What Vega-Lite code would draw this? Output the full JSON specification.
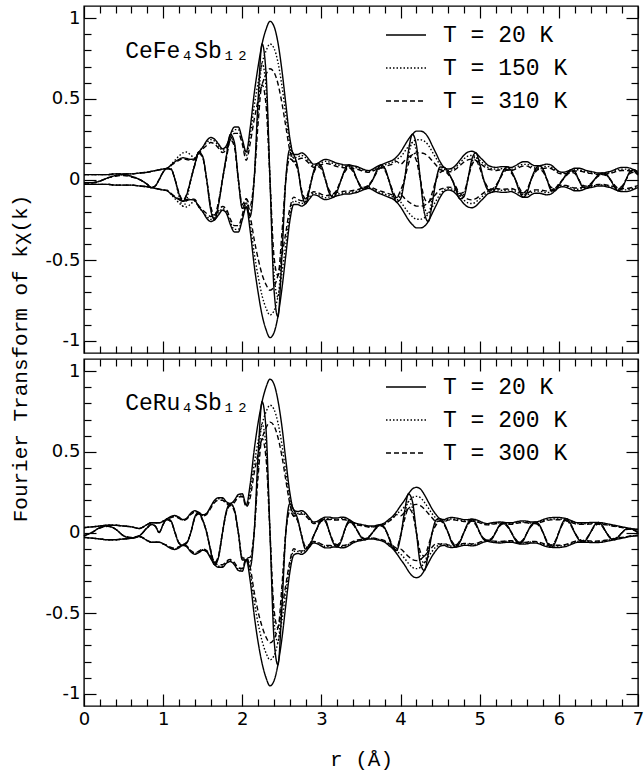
{
"$schema": "https://vega.github.io/schema/vega-lite/v6.json",
"background": "white",
"padding": {"left": 9, "top": 4, "right": 4, "bottom": 4},
"bounds": "flush",
"spacing": 6,
"config": {
  "view": {"stroke": "black", "strokeWidth": 1.4},
  "axis": {"domain": false, "grid": false, "tickColor": "black", "tickWidth": 1.2, "labelColor": "black", "labelFont": "DejaVu Sans", "labelFontSize": 18, "titleFont": "Liberation Mono", "titleFontSize": 21, "titleFontWeight": "normal", "titleColor": "black", "labelPadding": 16},
  "legend": {"labelFont": "Liberation Mono", "labelFontSize": 23, "labelColor": "black", "symbolType": "stroke", "symbolSize": 1600, "symbolStrokeWidth": 1.6, "symbolStrokeColor": "black", "labelOffset": 16, "rowPadding": -9, "padding": 0},
  "line": {"color": "black", "strokeWidth": 1.4, "interpolate": "monotone"}
},
"resolve": {"scale": {"strokeDash": "independent"}, "legend": {"strokeDash": "independent"}},
"datasets": {
"fe": [
{"r":0,"a":0.03,"b":0.03,"c":0.03,"d":-0.02,"e":-0.02,"f":-0.02},
{"r":0.1,"a":0.03,"b":0.03,"c":0.03,"d":-0.02,"e":-0.02,"f":-0.02},
{"r":0.2,"a":0.03,"b":0.03,"c":0.03,"d":-0.01,"e":-0.01,"f":-0.01},
{"r":0.3,"a":0.03,"b":0.03,"c":0.03,"d":0.01,"e":0.01,"f":0.01},
{"r":0.4,"a":0.035,"b":0.035,"c":0.035,"d":0.025,"e":0.025,"f":0.02},
{"r":0.5,"a":0.035,"b":0.035,"c":0.035,"d":0.03,"e":0.03,"f":0.025},
{"r":0.6,"a":0.035,"b":0.035,"c":0.035,"d":0.02,"e":0.02,"f":0.015},
{"r":0.7,"a":0.04,"b":0.04,"c":0.04,"d":0,"e":0,"f":0},
{"r":0.8,"a":0.045,"b":0.045,"c":0.045,"d":-0.03,"e":-0.03,"f":-0.03},
{"r":0.85,"a":0.05,"b":0.05,"c":0.05,"d":-0.05,"e":-0.05,"f":-0.05},
{"r":0.9,"a":0.055,"b":0.055,"c":0.055,"d":-0.04,"e":-0.04,"f":-0.04},
{"r":0.95,"a":0.06,"b":0.06,"c":0.06,"d":0,"e":0,"f":0},
{"r":1,"a":0.065,"b":0.065,"c":0.065,"d":0.046,"e":0.046,"f":0.046},
{"r":1.05,"a":0.07,"b":0.07,"c":0.067,"d":0.07,"e":0.07,"f":0.067},
{"r":1.1,"a":0.09,"b":0.092,"c":0.086,"d":0.064,"e":0.065,"f":0.061},
{"r":1.15,"a":0.11,"b":0.12,"c":0.105,"d":0,"e":0,"f":0},
{"r":1.2,"a":0.125,"b":0.145,"c":0.119,"d":-0.089,"e":-0.103,"f":-0.084},
{"r":1.25,"a":0.135,"b":0.165,"c":0.128,"d":-0.135,"e":-0.165,"f":-0.128},
{"r":1.3,"a":0.13,"b":0.17,"c":0.124,"d":-0.092,"e":-0.121,"f":-0.088},
{"r":1.35,"a":0.125,"b":0.15,"c":0.119,"d":0,"e":0,"f":0},
{"r":1.4,"a":0.13,"b":0.135,"c":0.124,"d":0.092,"e":0.096,"f":0.088},
{"r":1.45,"a":0.17,"b":0.17,"c":0.162,"d":0.17,"e":0.17,"f":0.162},
{"r":1.5,"a":0.2,"b":0.2,"c":0.19,"d":0.142,"e":0.142,"f":0.135},
{"r":1.55,"a":0.24,"b":0.228,"c":0.211,"d":0,"e":0,"f":0},
{"r":1.6,"a":0.26,"b":0.247,"c":0.229,"d":-0.185,"e":-0.175,"f":-0.163},
{"r":1.65,"a":0.25,"b":0.238,"c":0.22,"d":-0.25,"e":-0.238,"f":-0.22},
{"r":1.7,"a":0.22,"b":0.209,"c":0.194,"d":-0.156,"e":-0.148,"f":-0.138},
{"r":1.75,"a":0.19,"b":0.181,"c":0.167,"d":0,"e":0,"f":0},
{"r":1.8,"a":0.21,"b":0.2,"c":0.185,"d":0.149,"e":0.142,"f":0.131},
{"r":1.85,"a":0.28,"b":0.266,"c":0.246,"d":0.28,"e":0.266,"f":0.246},
{"r":1.9,"a":0.325,"b":0.309,"c":0.286,"d":0.231,"e":0.219,"f":0.203},
{"r":1.95,"a":0.325,"b":0.309,"c":0.286,"d":0,"e":0,"f":0},
{"r":2,"a":0.25,"b":0.238,"c":0.22,"d":-0.178,"e":-0.169,"f":-0.156},
{"r":2.05,"a":0.17,"b":0.146,"c":0.119,"d":-0.17,"e":-0.146,"f":-0.119},
{"r":2.1,"a":0.32,"b":0.274,"c":0.224,"d":-0.227,"e":-0.195,"f":-0.159},
{"r":2.15,"a":0.53,"b":0.454,"c":0.371,"d":0,"e":0,"f":0},
{"r":2.2,"a":0.7,"b":0.6,"c":0.49,"d":0.497,"e":0.426,"f":0.348},
{"r":2.25,"a":0.84,"b":0.72,"c":0.588,"d":0.84,"e":0.72,"f":0.588},
{"r":2.3,"a":0.93,"b":0.797,"c":0.651,"d":0.66,"e":0.566,"f":0.462},
{"r":2.35,"a":0.98,"b":0.84,"c":0.686,"d":0,"e":0,"f":0},
{"r":2.4,"a":0.95,"b":0.814,"c":0.665,"d":-0.675,"e":-0.578,"f":-0.472},
{"r":2.45,"a":0.85,"b":0.728,"c":0.595,"d":-0.85,"e":-0.728,"f":-0.595},
{"r":2.5,"a":0.68,"b":0.583,"c":0.476,"d":-0.483,"e":-0.414,"f":-0.338},
{"r":2.55,"a":0.47,"b":0.403,"c":0.329,"d":0,"e":0,"f":0},
{"r":2.6,"a":0.26,"b":0.223,"c":0.182,"d":0.185,"e":0.158,"f":0.129},
{"r":2.65,"a":0.155,"b":0.133,"c":0.109,"d":0.155,"e":0.133,"f":0.109},
{"r":2.7,"a":0.155,"b":0.14,"c":0.124,"d":0.078,"e":0.07,"f":0.062},
{"r":2.75,"a":0.165,"b":0.149,"c":0.132,"d":-0.083,"e":-0.074,"f":-0.066},
{"r":2.8,"a":0.15,"b":0.135,"c":0.12,"d":-0.15,"e":-0.135,"f":-0.12},
{"r":2.85,"a":0.12,"b":0.108,"c":0.096,"d":-0.06,"e":-0.054,"f":-0.048},
{"r":2.9,"a":0.095,"b":0.086,"c":0.076,"d":0.048,"e":0.043,"f":0.038},
{"r":2.95,"a":0.1,"b":0.09,"c":0.08,"d":0.1,"e":0.09,"f":0.08},
{"r":3,"a":0.115,"b":0.104,"c":0.092,"d":0.082,"e":0.074,"f":0.065},
{"r":3.05,"a":0.125,"b":0.113,"c":0.1,"d":0,"e":0,"f":0},
{"r":3.1,"a":0.12,"b":0.108,"c":0.096,"d":-0.085,"e":-0.077,"f":-0.068},
{"r":3.15,"a":0.11,"b":0.099,"c":0.088,"d":-0.11,"e":-0.099,"f":-0.088},
{"r":3.2,"a":0.1,"b":0.09,"c":0.08,"d":-0.071,"e":-0.064,"f":-0.057},
{"r":3.25,"a":0.095,"b":0.086,"c":0.076,"d":0,"e":0,"f":0},
{"r":3.3,"a":0.09,"b":0.081,"c":0.072,"d":0.064,"e":0.058,"f":0.051},
{"r":3.35,"a":0.09,"b":0.081,"c":0.072,"d":0.09,"e":0.081,"f":0.072},
{"r":3.4,"a":0.085,"b":0.077,"c":0.068,"d":0.06,"e":0.055,"f":0.048},
{"r":3.45,"a":0.08,"b":0.072,"c":0.064,"d":0,"e":0,"f":0},
{"r":3.5,"a":0.07,"b":0.063,"c":0.056,"d":-0.05,"e":-0.045,"f":-0.04},
{"r":3.55,"a":0.06,"b":0.054,"c":0.048,"d":-0.06,"e":-0.054,"f":-0.048},
{"r":3.6,"a":0.055,"b":0.05,"c":0.044,"d":-0.039,"e":-0.035,"f":-0.031},
{"r":3.65,"a":0.065,"b":0.059,"c":0.052,"d":0,"e":0,"f":0},
{"r":3.7,"a":0.08,"b":0.072,"c":0.064,"d":0.057,"e":0.051,"f":0.045},
{"r":3.75,"a":0.09,"b":0.081,"c":0.072,"d":0.09,"e":0.081,"f":0.072},
{"r":3.8,"a":0.1,"b":0.09,"c":0.08,"d":0.071,"e":0.064,"f":0.057},
{"r":3.85,"a":0.11,"b":0.099,"c":0.088,"d":0,"e":0,"f":0},
{"r":3.9,"a":0.12,"b":0.108,"c":0.096,"d":-0.085,"e":-0.077,"f":-0.068},
{"r":3.95,"a":0.14,"b":0.126,"c":0.112,"d":-0.14,"e":-0.126,"f":-0.112},
{"r":4,"a":0.17,"b":0.139,"c":0.094,"d":-0.121,"e":-0.099,"f":-0.067},
{"r":4.05,"a":0.21,"b":0.172,"c":0.116,"d":0,"e":0,"f":0},
{"r":4.1,"a":0.25,"b":0.205,"c":0.138,"d":0.178,"e":0.146,"f":0.098},
{"r":4.15,"a":0.28,"b":0.23,"c":0.154,"d":0.28,"e":0.23,"f":0.154},
{"r":4.2,"a":0.3,"b":0.246,"c":0.165,"d":0.213,"e":0.175,"f":0.117},
{"r":4.25,"a":0.3,"b":0.246,"c":0.165,"d":0,"e":0,"f":0},
{"r":4.3,"a":0.29,"b":0.238,"c":0.16,"d":-0.206,"e":-0.169,"f":-0.114},
{"r":4.35,"a":0.26,"b":0.213,"c":0.143,"d":-0.26,"e":-0.213,"f":-0.143},
{"r":4.4,"a":0.21,"b":0.172,"c":0.116,"d":-0.149,"e":-0.122,"f":-0.082},
{"r":4.45,"a":0.16,"b":0.131,"c":0.088,"d":0,"e":0,"f":0},
{"r":4.5,"a":0.11,"b":0.09,"c":0.061,"d":0.078,"e":0.064,"f":0.043},
{"r":4.55,"a":0.075,"b":0.064,"c":0.054,"d":0.075,"e":0.064,"f":0.054},
{"r":4.6,"a":0.065,"b":0.055,"c":0.047,"d":0.046,"e":0.039,"f":0.033},
{"r":4.65,"a":0.07,"b":0.06,"c":0.05,"d":0,"e":0,"f":0},
{"r":4.7,"a":0.09,"b":0.077,"c":0.065,"d":-0.064,"e":-0.055,"f":-0.046},
{"r":4.75,"a":0.12,"b":0.102,"c":0.086,"d":-0.12,"e":-0.102,"f":-0.086},
{"r":4.8,"a":0.15,"b":0.128,"c":0.108,"d":-0.107,"e":-0.091,"f":-0.077},
{"r":4.85,"a":0.17,"b":0.145,"c":0.122,"d":0,"e":0,"f":0},
{"r":4.9,"a":0.175,"b":0.149,"c":0.126,"d":0.124,"e":0.106,"f":0.089},
{"r":4.95,"a":0.165,"b":0.14,"c":0.119,"d":0.165,"e":0.14,"f":0.119},
{"r":5,"a":0.14,"b":0.119,"c":0.101,"d":0.099,"e":0.084,"f":0.072},
{"r":5.05,"a":0.115,"b":0.098,"c":0.083,"d":0,"e":0,"f":0},
{"r":5.1,"a":0.09,"b":0.077,"c":0.065,"d":-0.064,"e":-0.055,"f":-0.046},
{"r":5.15,"a":0.08,"b":0.068,"c":0.06,"d":-0.08,"e":-0.068,"f":-0.06},
{"r":5.2,"a":0.075,"b":0.064,"c":0.056,"d":-0.053,"e":-0.045,"f":-0.04},
{"r":5.25,"a":0.078,"b":0.066,"c":0.059,"d":0,"e":0,"f":0},
{"r":5.3,"a":0.08,"b":0.068,"c":0.06,"d":0.057,"e":0.048,"f":0.043},
{"r":5.35,"a":0.078,"b":0.066,"c":0.059,"d":0.078,"e":0.066,"f":0.059},
{"r":5.4,"a":0.075,"b":0.064,"c":0.056,"d":0.053,"e":0.045,"f":0.04},
{"r":5.45,"a":0.085,"b":0.072,"c":0.064,"d":0,"e":0,"f":0},
{"r":5.5,"a":0.1,"b":0.085,"c":0.075,"d":-0.071,"e":-0.06,"f":-0.053},
{"r":5.55,"a":0.11,"b":0.094,"c":0.083,"d":-0.11,"e":-0.094,"f":-0.083},
{"r":5.6,"a":0.11,"b":0.094,"c":0.083,"d":-0.078,"e":-0.067,"f":-0.059},
{"r":5.65,"a":0.095,"b":0.081,"c":0.071,"d":0,"e":0,"f":0},
{"r":5.7,"a":0.085,"b":0.072,"c":0.064,"d":0.06,"e":0.051,"f":0.045},
{"r":5.75,"a":0.085,"b":0.072,"c":0.064,"d":0.085,"e":0.072,"f":0.064},
{"r":5.8,"a":0.09,"b":0.077,"c":0.068,"d":0.064,"e":0.055,"f":0.048},
{"r":5.85,"a":0.095,"b":0.081,"c":0.071,"d":0,"e":0,"f":0},
{"r":5.9,"a":0.09,"b":0.077,"c":0.068,"d":-0.064,"e":-0.055,"f":-0.048},
{"r":5.95,"a":0.07,"b":0.06,"c":0.053,"d":-0.07,"e":-0.06,"f":-0.053},
{"r":6,"a":0.05,"b":0.043,"c":0.038,"d":-0.036,"e":-0.031,"f":-0.027},
{"r":6.05,"a":0.045,"b":0.038,"c":0.034,"d":0,"e":0,"f":0},
{"r":6.1,"a":0.05,"b":0.043,"c":0.038,"d":0.036,"e":0.031,"f":0.027},
{"r":6.15,"a":0.06,"b":0.051,"c":0.045,"d":0.06,"e":0.051,"f":0.045},
{"r":6.2,"a":0.07,"b":0.06,"c":0.053,"d":0.05,"e":0.043,"f":0.038},
{"r":6.25,"a":0.07,"b":0.06,"c":0.053,"d":0,"e":0,"f":0},
{"r":6.3,"a":0.065,"b":0.055,"c":0.049,"d":-0.046,"e":-0.039,"f":-0.035},
{"r":6.35,"a":0.055,"b":0.047,"c":0.041,"d":-0.055,"e":-0.047,"f":-0.041},
{"r":6.4,"a":0.05,"b":0.043,"c":0.038,"d":-0.036,"e":-0.031,"f":-0.027},
{"r":6.45,"a":0.045,"b":0.038,"c":0.034,"d":0,"e":0,"f":0},
{"r":6.5,"a":0.04,"b":0.034,"c":0.03,"d":0.028,"e":0.024,"f":0.021},
{"r":6.55,"a":0.04,"b":0.034,"c":0.03,"d":0.04,"e":0.034,"f":0.03},
{"r":6.6,"a":0.045,"b":0.038,"c":0.034,"d":0.032,"e":0.027,"f":0.024},
{"r":6.65,"a":0.05,"b":0.043,"c":0.038,"d":0,"e":0,"f":0},
{"r":6.7,"a":0.06,"b":0.051,"c":0.045,"d":-0.043,"e":-0.036,"f":-0.032},
{"r":6.75,"a":0.07,"b":0.06,"c":0.053,"d":-0.07,"e":-0.06,"f":-0.053},
{"r":6.8,"a":0.075,"b":0.064,"c":0.056,"d":-0.053,"e":-0.045,"f":-0.04},
{"r":6.85,"a":0.075,"b":0.064,"c":0.056,"d":0,"e":0,"f":0},
{"r":6.9,"a":0.07,"b":0.06,"c":0.053,"d":0.05,"e":0.043,"f":0.038},
{"r":6.95,"a":0.06,"b":0.051,"c":0.045,"d":0.06,"e":0.051,"f":0.045},
{"r":7,"a":0.05,"b":0.043,"c":0.038,"d":0.036,"e":0.031,"f":0.027}
],
"ru": [
{"r":0,"a":0.03,"b":0.03,"c":0.03,"d":-0.02,"e":-0.02,"f":-0.02},
{"r":0.1,"a":0.035,"b":0.035,"c":0.035,"d":0,"e":0,"f":0},
{"r":0.2,"a":0.04,"b":0.04,"c":0.04,"d":0.03,"e":0.03,"f":0.028},
{"r":0.3,"a":0.045,"b":0.045,"c":0.045,"d":0.04,"e":0.04,"f":0.038},
{"r":0.4,"a":0.045,"b":0.045,"c":0.045,"d":0.02,"e":0.02,"f":0.02},
{"r":0.5,"a":0.04,"b":0.04,"c":0.04,"d":-0.02,"e":-0.02,"f":-0.02},
{"r":0.6,"a":0.035,"b":0.035,"c":0.035,"d":-0.035,"e":-0.035,"f":-0.03},
{"r":0.7,"a":0.025,"b":0.025,"c":0.025,"d":-0.02,"e":-0.02,"f":-0.02},
{"r":0.8,"a":0.05,"b":0.05,"c":0.05,"d":0.03,"e":0.03,"f":0.03},
{"r":0.85,"a":0.06,"b":0.06,"c":0.06,"d":0.05,"e":0.05,"f":0.05},
{"r":0.9,"a":0.06,"b":0.06,"c":0.06,"d":0.04,"e":0.04,"f":0.04},
{"r":0.95,"a":0.06,"b":0.06,"c":0.06,"d":0,"e":0,"f":0},
{"r":1,"a":0.07,"b":0.07,"c":0.07,"d":0.05,"e":0.05,"f":0.05},
{"r":1.05,"a":0.085,"b":0.082,"c":0.079,"d":0.085,"e":0.082,"f":0.079},
{"r":1.1,"a":0.1,"b":0.097,"c":0.093,"d":0.071,"e":0.069,"f":0.066},
{"r":1.15,"a":0.105,"b":0.102,"c":0.098,"d":0,"e":0,"f":0},
{"r":1.2,"a":0.095,"b":0.092,"c":0.088,"d":-0.067,"e":-0.065,"f":-0.063},
{"r":1.25,"a":0.08,"b":0.078,"c":0.074,"d":-0.08,"e":-0.078,"f":-0.074},
{"r":1.3,"a":0.09,"b":0.087,"c":0.084,"d":-0.064,"e":-0.062,"f":-0.059},
{"r":1.35,"a":0.12,"b":0.116,"c":0.112,"d":0,"e":0,"f":0},
{"r":1.4,"a":0.135,"b":0.131,"c":0.126,"d":0.096,"e":0.093,"f":0.089},
{"r":1.45,"a":0.125,"b":0.121,"c":0.116,"d":0.125,"e":0.121,"f":0.116},
{"r":1.5,"a":0.11,"b":0.107,"c":0.102,"d":0.078,"e":0.076,"f":0.072},
{"r":1.55,"a":0.12,"b":0.116,"c":0.112,"d":0,"e":0,"f":0},
{"r":1.6,"a":0.16,"b":0.155,"c":0.149,"d":-0.114,"e":-0.11,"f":-0.106},
{"r":1.65,"a":0.2,"b":0.194,"c":0.186,"d":-0.2,"e":-0.194,"f":-0.186},
{"r":1.7,"a":0.215,"b":0.209,"c":0.2,"d":-0.153,"e":-0.148,"f":-0.142},
{"r":1.75,"a":0.215,"b":0.209,"c":0.2,"d":0,"e":0,"f":0},
{"r":1.8,"a":0.19,"b":0.184,"c":0.177,"d":0.135,"e":0.131,"f":0.126},
{"r":1.85,"a":0.18,"b":0.175,"c":0.167,"d":0.18,"e":0.175,"f":0.167},
{"r":1.9,"a":0.2,"b":0.194,"c":0.186,"d":0.142,"e":0.138,"f":0.132},
{"r":1.95,"a":0.235,"b":0.228,"c":0.219,"d":0,"e":0,"f":0},
{"r":2,"a":0.24,"b":0.233,"c":0.223,"d":-0.17,"e":-0.165,"f":-0.158},
{"r":2.05,"a":0.17,"b":0.165,"c":0.158,"d":-0.17,"e":-0.165,"f":-0.158},
{"r":2.1,"a":0.3,"b":0.249,"c":0.216,"d":-0.213,"e":-0.177,"f":-0.153},
{"r":2.15,"a":0.51,"b":0.423,"c":0.367,"d":0,"e":0,"f":0},
{"r":2.2,"a":0.68,"b":0.564,"c":0.49,"d":0.483,"e":0.401,"f":0.348},
{"r":2.25,"a":0.81,"b":0.672,"c":0.583,"d":0.81,"e":0.672,"f":0.583},
{"r":2.3,"a":0.9,"b":0.747,"c":0.648,"d":0.639,"e":0.53,"f":0.46},
{"r":2.35,"a":0.95,"b":0.789,"c":0.684,"d":0,"e":0,"f":0},
{"r":2.4,"a":0.92,"b":0.764,"c":0.662,"d":-0.653,"e":-0.542,"f":-0.47},
{"r":2.45,"a":0.82,"b":0.681,"c":0.59,"d":-0.82,"e":-0.681,"f":-0.59},
{"r":2.5,"a":0.66,"b":0.548,"c":0.475,"d":-0.469,"e":-0.389,"f":-0.337},
{"r":2.55,"a":0.45,"b":0.374,"c":0.324,"d":0,"e":0,"f":0},
{"r":2.6,"a":0.25,"b":0.208,"c":0.18,"d":0.178,"e":0.147,"f":0.128},
{"r":2.65,"a":0.14,"b":0.116,"c":0.101,"d":0.14,"e":0.116,"f":0.101},
{"r":2.7,"a":0.13,"b":0.117,"c":0.111,"d":0.084,"e":0.076,"f":0.072},
{"r":2.75,"a":0.135,"b":0.122,"c":0.115,"d":-0.022,"e":-0.02,"f":-0.019},
{"r":2.8,"a":0.12,"b":0.108,"c":0.102,"d":-0.103,"e":-0.093,"f":-0.087},
{"r":2.85,"a":0.09,"b":0.081,"c":0.077,"d":-0.085,"e":-0.077,"f":-0.073},
{"r":2.9,"a":0.065,"b":0.059,"c":0.055,"d":-0.024,"e":-0.022,"f":-0.02},
{"r":2.95,"a":0.07,"b":0.063,"c":0.06,"d":0.033,"e":0.029,"f":0.028},
{"r":3,"a":0.085,"b":0.077,"c":0.072,"d":0.083,"e":0.075,"f":0.07},
{"r":3.05,"a":0.095,"b":0.086,"c":0.081,"d":0.076,"e":0.068,"f":0.064},
{"r":3.1,"a":0.095,"b":0.086,"c":0.081,"d":0.005,"e":0.005,"f":0.004},
{"r":3.15,"a":0.09,"b":0.081,"c":0.077,"d":-0.065,"e":-0.059,"f":-0.056},
{"r":3.2,"a":0.09,"b":0.081,"c":0.077,"d":-0.089,"e":-0.081,"f":-0.076},
{"r":3.25,"a":0.095,"b":0.086,"c":0.081,"d":-0.053,"e":-0.048,"f":-0.045},
{"r":3.3,"a":0.093,"b":0.084,"c":0.079,"d":0.025,"e":0.022,"f":0.021},
{"r":3.35,"a":0.08,"b":0.072,"c":0.068,"d":0.073,"e":0.065,"f":0.062},
{"r":3.4,"a":0.065,"b":0.059,"c":0.055,"d":0.059,"e":0.053,"f":0.05},
{"r":3.45,"a":0.055,"b":0.05,"c":0.047,"d":0.015,"e":0.013,"f":0.013},
{"r":3.5,"a":0.05,"b":0.045,"c":0.043,"d":-0.028,"e":-0.025,"f":-0.024},
{"r":3.55,"a":0.045,"b":0.041,"c":0.038,"d":-0.045,"e":-0.041,"f":-0.038},
{"r":3.6,"a":0.04,"b":0.036,"c":0.034,"d":-0.029,"e":-0.026,"f":-0.025},
{"r":3.65,"a":0.04,"b":0.036,"c":0.034,"d":0.002,"e":0.002,"f":0.002},
{"r":3.7,"a":0.045,"b":0.041,"c":0.038,"d":0.036,"e":0.032,"f":0.03},
{"r":3.75,"a":0.05,"b":0.045,"c":0.043,"d":0.049,"e":0.044,"f":0.042},
{"r":3.8,"a":0.06,"b":0.054,"c":0.051,"d":0.028,"e":0.025,"f":0.024},
{"r":3.85,"a":0.08,"b":0.072,"c":0.068,"d":-0.03,"e":-0.027,"f":-0.025},
{"r":3.9,"a":0.1,"b":0.09,"c":0.085,"d":-0.095,"e":-0.085,"f":-0.081},
{"r":3.95,"a":0.13,"b":0.117,"c":0.111,"d":-0.111,"e":-0.1,"f":-0.095},
{"r":4,"a":0.166,"b":0.133,"c":0.103,"d":-0.027,"e":-0.022,"f":-0.017},
{"r":4.05,"a":0.2,"b":0.16,"c":0.124,"d":0.129,"e":0.104,"f":0.08},
{"r":4.1,"a":0.24,"b":0.192,"c":0.149,"d":0.24,"e":0.192,"f":0.149},
{"r":4.15,"a":0.27,"b":0.216,"c":0.167,"d":0.192,"e":0.153,"f":0.119},
{"r":4.2,"a":0.28,"b":0.224,"c":0.174,"d":0,"e":0,"f":0},
{"r":4.25,"a":0.27,"b":0.216,"c":0.167,"d":-0.192,"e":-0.153,"f":-0.119},
{"r":4.3,"a":0.235,"b":0.188,"c":0.146,"d":-0.235,"e":-0.188,"f":-0.146},
{"r":4.35,"a":0.19,"b":0.152,"c":0.118,"d":-0.135,"e":-0.108,"f":-0.084},
{"r":4.4,"a":0.145,"b":0.116,"c":0.09,"d":0,"e":0,"f":0},
{"r":4.45,"a":0.11,"b":0.088,"c":0.068,"d":0.078,"e":0.062,"f":0.048},
{"r":4.5,"a":0.085,"b":0.077,"c":0.072,"d":0.085,"e":0.077,"f":0.072},
{"r":4.55,"a":0.08,"b":0.072,"c":0.068,"d":0.057,"e":0.051,"f":0.048},
{"r":4.6,"a":0.09,"b":0.081,"c":0.077,"d":0,"e":0,"f":0},
{"r":4.65,"a":0.093,"b":0.084,"c":0.079,"d":-0.066,"e":-0.06,"f":-0.056},
{"r":4.7,"a":0.09,"b":0.081,"c":0.077,"d":-0.09,"e":-0.081,"f":-0.077},
{"r":4.75,"a":0.085,"b":0.077,"c":0.072,"d":-0.06,"e":-0.055,"f":-0.051},
{"r":4.8,"a":0.08,"b":0.072,"c":0.068,"d":0,"e":0,"f":0},
{"r":4.85,"a":0.08,"b":0.072,"c":0.068,"d":0.057,"e":0.051,"f":0.048},
{"r":4.9,"a":0.083,"b":0.075,"c":0.071,"d":0.083,"e":0.075,"f":0.071},
{"r":4.95,"a":0.08,"b":0.072,"c":0.068,"d":0.057,"e":0.051,"f":0.048},
{"r":5,"a":0.07,"b":0.063,"c":0.06,"d":0,"e":0,"f":0},
{"r":5.05,"a":0.06,"b":0.054,"c":0.051,"d":-0.043,"e":-0.038,"f":-0.036},
{"r":5.1,"a":0.055,"b":0.05,"c":0.047,"d":-0.055,"e":-0.05,"f":-0.047},
{"r":5.15,"a":0.06,"b":0.054,"c":0.051,"d":-0.043,"e":-0.038,"f":-0.036},
{"r":5.2,"a":0.063,"b":0.057,"c":0.054,"d":0,"e":0,"f":0},
{"r":5.25,"a":0.065,"b":0.059,"c":0.055,"d":0.046,"e":0.042,"f":0.039},
{"r":5.3,"a":0.063,"b":0.057,"c":0.054,"d":0.063,"e":0.057,"f":0.054},
{"r":5.35,"a":0.06,"b":0.054,"c":0.051,"d":0.043,"e":0.038,"f":0.036},
{"r":5.4,"a":0.06,"b":0.054,"c":0.051,"d":0,"e":0,"f":0},
{"r":5.45,"a":0.065,"b":0.059,"c":0.055,"d":-0.046,"e":-0.042,"f":-0.039},
{"r":5.5,"a":0.07,"b":0.063,"c":0.06,"d":-0.07,"e":-0.063,"f":-0.06},
{"r":5.55,"a":0.072,"b":0.065,"c":0.061,"d":-0.051,"e":-0.046,"f":-0.043},
{"r":5.6,"a":0.07,"b":0.063,"c":0.06,"d":0,"e":0,"f":0},
{"r":5.65,"a":0.065,"b":0.059,"c":0.055,"d":0.046,"e":0.042,"f":0.039},
{"r":5.7,"a":0.065,"b":0.059,"c":0.055,"d":0.065,"e":0.059,"f":0.055},
{"r":5.75,"a":0.07,"b":0.063,"c":0.06,"d":0.05,"e":0.045,"f":0.042},
{"r":5.8,"a":0.08,"b":0.072,"c":0.068,"d":0,"e":0,"f":0},
{"r":5.85,"a":0.088,"b":0.079,"c":0.075,"d":-0.062,"e":-0.056,"f":-0.053},
{"r":5.9,"a":0.092,"b":0.083,"c":0.078,"d":-0.092,"e":-0.083,"f":-0.078},
{"r":5.95,"a":0.093,"b":0.084,"c":0.079,"d":-0.066,"e":-0.06,"f":-0.056},
{"r":6,"a":0.093,"b":0.084,"c":0.079,"d":0,"e":0,"f":0},
{"r":6.05,"a":0.09,"b":0.081,"c":0.077,"d":0.064,"e":0.058,"f":0.054},
{"r":6.1,"a":0.085,"b":0.077,"c":0.072,"d":0.085,"e":0.077,"f":0.072},
{"r":6.15,"a":0.075,"b":0.068,"c":0.064,"d":0.053,"e":0.048,"f":0.045},
{"r":6.2,"a":0.065,"b":0.059,"c":0.055,"d":0,"e":0,"f":0},
{"r":6.25,"a":0.06,"b":0.054,"c":0.051,"d":-0.043,"e":-0.038,"f":-0.036},
{"r":6.3,"a":0.06,"b":0.054,"c":0.051,"d":-0.06,"e":-0.054,"f":-0.051},
{"r":6.35,"a":0.06,"b":0.054,"c":0.051,"d":-0.043,"e":-0.038,"f":-0.036},
{"r":6.4,"a":0.062,"b":0.056,"c":0.053,"d":0,"e":0,"f":0},
{"r":6.45,"a":0.063,"b":0.057,"c":0.054,"d":0.045,"e":0.04,"f":0.038},
{"r":6.5,"a":0.062,"b":0.056,"c":0.053,"d":0.062,"e":0.056,"f":0.053},
{"r":6.55,"a":0.06,"b":0.054,"c":0.051,"d":0.043,"e":0.038,"f":0.036},
{"r":6.6,"a":0.055,"b":0.05,"c":0.047,"d":0,"e":0,"f":0},
{"r":6.65,"a":0.05,"b":0.045,"c":0.043,"d":-0.036,"e":-0.032,"f":-0.03},
{"r":6.7,"a":0.045,"b":0.041,"c":0.038,"d":-0.045,"e":-0.041,"f":-0.038},
{"r":6.75,"a":0.04,"b":0.036,"c":0.034,"d":-0.028,"e":-0.026,"f":-0.024},
{"r":6.8,"a":0.035,"b":0.032,"c":0.03,"d":0,"e":0,"f":0},
{"r":6.85,"a":0.03,"b":0.027,"c":0.026,"d":0.021,"e":0.019,"f":0.018},
{"r":6.9,"a":0.025,"b":0.023,"c":0.021,"d":0.025,"e":0.023,"f":0.021},
{"r":6.95,"a":0.022,"b":0.02,"c":0.019,"d":0.016,"e":0.014,"f":0.013},
{"r":7,"a":0.02,"b":0.018,"c":0.017,"d":0,"e":0,"f":0}
]
},
"vconcat": [
{
  "width": 554, "height": 347,
  "data": {"name": "fe"},
  "resolve": {"scale": {"x": "independent", "y": "independent"}},
  "layer": [
    {
      "transform": [{"fold": ["a","b","c"], "as": ["T","v"]}],
      "mark": {"type": "line"},
      "encoding": {
        "x": {"field": "r", "type": "quantitative", "scale": {"domain": [0,7], "nice": false, "zero": false}, "axis": {"orient": "bottom", "values": [0,1,2,3,4,5,6,7], "tickSize": -12, "labels": false, "title": null}},
        "y": {"field": "v", "type": "quantitative", "scale": {"domain": [-1.075,1.075], "nice": false, "zero": false}, "axis": {"orient": "left", "values": [-1,-0.5,0,0.5,1], "tickSize": -12, "labelExpr": "'' + datum.value", "title": "Fourier Transform of kχ(k)", "titleColor": "#000000", "titleOpacity": 1, "titleY": 352, "titlePadding": 14}},
        "strokeDash": {"field": "T", "type": "nominal", "scale": {"domain": ["a","b","c","d","e","f"], "range": [[1,0],[1.5,2],[5,3],[1,0],[1.5,2],[5,3]]}, "legend": {"values": ["a","b","c"], "title": null, "orient": "none", "legendX": 301, "legendY": 8, "labelExpr": "datum.value == 'a' ? 'T = 20 K' : datum.value == 'b' ? 'T = 150 K' : 'T = 310 K'"}}
      }
    },
    {
      "transform": [{"fold": ["a","b","c"], "as": ["T","v"]}],
      "mark": {"type": "line"},
      "encoding": {
        "x": {"field": "r", "type": "quantitative", "scale": {"domain": [0,7], "nice": false, "zero": false}, "axis": {"orient": "bottom", "values": [0.2,0.4,0.6,0.8,1.2,1.4,1.6,1.8,2.2,2.4,2.6,2.8,3.2,3.4,3.6,3.8,4.2,4.4,4.6,4.8,5.2,5.4,5.6,5.8,6.2,6.4,6.6,6.8], "tickSize": -7, "labels": false, "title": null}},
        "y": {"field": "v", "type": "quantitative", "scale": {"domain": [-1.075,1.075], "nice": false, "zero": false, "reverse": true}, "axis": {"orient": "left", "values": [-0.9,-0.8,-0.7,-0.6,-0.4,-0.3,-0.2,-0.1,0.1,0.2,0.3,0.4,0.6,0.7,0.8,0.9], "tickSize": -7, "labels": false, "title": null}},
        "strokeDash": {"field": "T", "type": "nominal"}
      }
    },
    {
      "transform": [{"fold": ["d","e","f"], "as": ["T","v"]}],
      "mark": {"type": "line"},
      "encoding": {
        "x": {"field": "r", "type": "quantitative", "scale": {"domain": [0,7], "nice": false, "zero": false}, "axis": {"orient": "top", "values": [0,1,2,3,4,5,6,7], "tickSize": -12, "labels": false, "title": null}},
        "y": {"field": "v", "type": "quantitative", "scale": {"domain": [-1.075,1.075], "nice": false, "zero": false}, "axis": {"orient": "right", "values": [-1,-0.5,0,0.5,1], "tickSize": -12, "labels": false, "title": null}},
        "strokeDash": {"field": "T", "type": "nominal"}
      }
    },
    {
      "data": {"values": [{"name": "CeFe₄Sb₁₂"}]},
      "mark": {"type": "text", "align": "left", "baseline": "alphabetic", "font": "Liberation Mono", "fontSize": 23, "color": "black"},
      "encoding": {
        "x": {"datum": 0.52, "type": "quantitative", "scale": {"domain": [0,7], "nice": false, "zero": false}, "axis": {"orient": "top", "values": [0.2,0.4,0.6,0.8,1.2,1.4,1.6,1.8,2.2,2.4,2.6,2.8,3.2,3.4,3.6,3.8,4.2,4.4,4.6,4.8,5.2,5.4,5.6,5.8,6.2,6.4,6.6,6.8], "tickSize": -7, "labels": false, "title": null}},
        "y": {"datum": 0.75, "type": "quantitative", "scale": {"domain": [-1.075,1.075], "nice": false, "zero": false}, "axis": {"orient": "right", "values": [-0.9,-0.8,-0.7,-0.6,-0.4,-0.3,-0.2,-0.1,0.1,0.2,0.3,0.4,0.6,0.7,0.8,0.9], "tickSize": -7, "labels": false, "title": null}},
        "text": {"field": "name"}
      }
    }
  ]
},
{
  "width": 554, "height": 347,
  "data": {"name": "ru"},
  "resolve": {"scale": {"x": "independent", "y": "independent"}},
  "layer": [
    {
      "transform": [{"fold": ["a","b","c"], "as": ["T","v"]}],
      "mark": {"type": "line"},
      "encoding": {
        "x": {"field": "r", "type": "quantitative", "scale": {"domain": [0,7], "nice": false, "zero": false}, "axis": {"orient": "bottom", "values": [0,1,2,3,4,5,6,7], "tickSize": -12, "title": "r (Å)", "titleColor": "#000000", "titlePadding": 20, "labelFlush": false}},
        "y": {"field": "v", "type": "quantitative", "scale": {"domain": [-1.075,1.075], "nice": false, "zero": false}, "axis": {"orient": "left", "values": [-1,-0.5,0,0.5,1], "tickSize": -12, "labelExpr": "'' + datum.value", "title": null}},
        "strokeDash": {"field": "T", "type": "nominal", "scale": {"domain": ["a","b","c","d","e","f"], "range": [[1,0],[1.5,2],[5,3],[1,0],[1.5,2],[5,3]]}, "legend": {"values": ["a","b","c"], "title": null, "orient": "none", "legendX": 301, "legendY": 7, "labelExpr": "datum.value == 'a' ? 'T = 20 K' : datum.value == 'b' ? 'T = 200 K' : 'T = 300 K'"}}
      }
    },
    {
      "transform": [{"fold": ["a","b","c"], "as": ["T","v"]}],
      "mark": {"type": "line"},
      "encoding": {
        "x": {"field": "r", "type": "quantitative", "scale": {"domain": [0,7], "nice": false, "zero": false}, "axis": {"orient": "bottom", "values": [0.2,0.4,0.6,0.8,1.2,1.4,1.6,1.8,2.2,2.4,2.6,2.8,3.2,3.4,3.6,3.8,4.2,4.4,4.6,4.8,5.2,5.4,5.6,5.8,6.2,6.4,6.6,6.8], "tickSize": -7, "labels": false, "title": null}},
        "y": {"field": "v", "type": "quantitative", "scale": {"domain": [-1.075,1.075], "nice": false, "zero": false, "reverse": true}, "axis": {"orient": "left", "values": [-0.9,-0.8,-0.7,-0.6,-0.4,-0.3,-0.2,-0.1,0.1,0.2,0.3,0.4,0.6,0.7,0.8,0.9], "tickSize": -7, "labels": false, "title": null}},
        "strokeDash": {"field": "T", "type": "nominal"}
      }
    },
    {
      "transform": [{"fold": ["d","e","f"], "as": ["T","v"]}],
      "mark": {"type": "line"},
      "encoding": {
        "x": {"field": "r", "type": "quantitative", "scale": {"domain": [0,7], "nice": false, "zero": false}, "axis": {"orient": "top", "values": [0,1,2,3,4,5,6,7], "tickSize": -12, "labels": false, "title": null}},
        "y": {"field": "v", "type": "quantitative", "scale": {"domain": [-1.075,1.075], "nice": false, "zero": false}, "axis": {"orient": "right", "values": [-1,-0.5,0,0.5,1], "tickSize": -12, "labels": false, "title": null}},
        "strokeDash": {"field": "T", "type": "nominal"}
      }
    },
    {
      "data": {"values": [{"name": "CeRu₄Sb₁₂"}]},
      "mark": {"type": "text", "align": "left", "baseline": "alphabetic", "font": "Liberation Mono", "fontSize": 23, "color": "black"},
      "encoding": {
        "x": {"datum": 0.52, "type": "quantitative", "scale": {"domain": [0,7], "nice": false, "zero": false}, "axis": {"orient": "top", "values": [0.2,0.4,0.6,0.8,1.2,1.4,1.6,1.8,2.2,2.4,2.6,2.8,3.2,3.4,3.6,3.8,4.2,4.4,4.6,4.8,5.2,5.4,5.6,5.8,6.2,6.4,6.6,6.8], "tickSize": -7, "labels": false, "title": null}},
        "y": {"datum": 0.76, "type": "quantitative", "scale": {"domain": [-1.075,1.075], "nice": false, "zero": false}, "axis": {"orient": "right", "values": [-0.9,-0.8,-0.7,-0.6,-0.4,-0.3,-0.2,-0.1,0.1,0.2,0.3,0.4,0.6,0.7,0.8,0.9], "tickSize": -7, "labels": false, "title": null}},
        "text": {"field": "name"}
      }
    }
  ]
}
]
}
